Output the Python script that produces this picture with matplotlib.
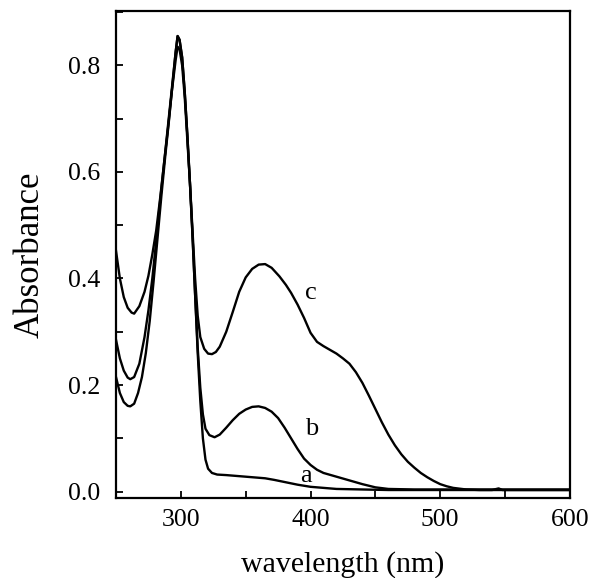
import numpy as np
import matplotlib
matplotlib.use("Agg")
import matplotlib.pyplot as plt
from matplotlib.ticker import MultipleLocator

plt.rcParams['font.family'] = ['Liberation Serif', 'DejaVu Serif']

# curva a
wl_a = [250, 253, 256, 259, 261, 264, 267, 270, 273, 276, 279, 282, 285, 288, 291, 294, 296, 297.5,
        299, 301, 303, 305, 307, 309, 311, 313, 315, 317, 319, 321, 324, 328, 335, 345, 355, 365,
        372, 380, 390, 400, 410, 420, 440, 460, 500, 540, 545, 548, 600]
abs_a = [0.215, 0.185, 0.168, 0.161, 0.160, 0.165, 0.185, 0.215, 0.260, 0.320, 0.395, 0.475, 0.555,
         0.630, 0.700, 0.775, 0.825, 0.855, 0.848, 0.815, 0.750, 0.670, 0.580, 0.480, 0.370, 0.260,
         0.170, 0.100, 0.060, 0.043, 0.035, 0.032, 0.031, 0.029, 0.027, 0.025, 0.022, 0.018, 0.013,
         0.009, 0.007, 0.005, 0.004, 0.003, 0.003, 0.003, 0.006, 0.003, 0.003]

# curva b
wl_b = [250, 253, 256, 259, 261, 264, 268, 272, 275, 278, 281, 284, 287, 290, 293, 296, 297.5,
        299, 301, 303, 305, 307, 309, 311, 313, 315, 317, 319, 322, 326, 330, 335, 340, 345, 350,
        355, 360, 365, 370, 375, 380, 385, 390, 395, 400, 405, 410, 420, 430, 440, 450, 460, 480, 600]
abs_b = [0.285, 0.250, 0.227, 0.214, 0.211, 0.215, 0.240, 0.290, 0.340, 0.400, 0.470, 0.545, 0.615,
         0.685, 0.755, 0.825, 0.855, 0.848, 0.815, 0.750, 0.670, 0.580, 0.480, 0.370, 0.270, 0.195,
         0.145, 0.118, 0.106, 0.102, 0.107, 0.120, 0.134, 0.146, 0.154, 0.159, 0.160, 0.157, 0.150,
         0.138, 0.120, 0.100, 0.080, 0.062, 0.050, 0.041, 0.035, 0.028, 0.021, 0.014, 0.008, 0.005,
         0.004, 0.004]

# curva c
wl_c = [250, 253, 256, 259, 262, 264, 268, 272, 275, 278, 281, 284, 287, 290, 293, 296, 297.5,
        299, 301, 303, 305, 307, 309, 311, 313, 315, 318, 321, 324, 327, 330, 335, 340, 345, 350,
        355, 360, 365, 370, 376, 381, 385, 390, 395, 400, 405, 410, 415, 420, 425, 430, 435, 440,
        445, 450, 455, 460, 465, 470, 475, 480, 485, 490, 495, 500, 505, 510, 520, 530, 600]
abs_c = [0.452, 0.400, 0.365, 0.345, 0.336, 0.334, 0.348, 0.375, 0.405, 0.445, 0.490, 0.550, 0.615,
         0.680, 0.750, 0.810, 0.835, 0.830, 0.800, 0.740, 0.660, 0.580, 0.490, 0.400, 0.330, 0.290,
         0.268, 0.259, 0.258, 0.262, 0.272, 0.300, 0.337, 0.375, 0.402, 0.418, 0.426, 0.427, 0.420,
         0.404, 0.388, 0.373, 0.351, 0.326, 0.298, 0.281, 0.273, 0.266, 0.259, 0.250, 0.240, 0.224,
         0.204, 0.180, 0.155, 0.130, 0.107, 0.087, 0.070, 0.056, 0.045, 0.035, 0.027, 0.020, 0.014,
         0.010, 0.007, 0.004, 0.003, 0.003]

etiquetas = ['a', 'b', 'c']
pos_etiquetas = [(392, 0.030), (396, 0.118), (396, 0.372)]

fig = plt.figure(figsize=(5.9, 5.78), dpi=100)
ax = fig.add_axes([0.1966, 0.1384, 0.7694, 0.8426])

for wl, ab in [(wl_a, abs_a), (wl_b, abs_b), (wl_c, abs_c)]:
    ax.plot(wl, ab, color='black', linewidth=1.7)

for txt, (x, y) in zip(etiquetas, pos_etiquetas):
    ax.text(x, y, txt, fontsize=19, ha='left', va='center')

ax.set_xlim(250, 600)
ax.set_ylim(-0.012, 0.902)
ax.xaxis.set_major_locator(MultipleLocator(100))
ax.xaxis.set_minor_locator(MultipleLocator(50))
ax.yaxis.set_major_locator(MultipleLocator(0.2))
ax.yaxis.set_minor_locator(MultipleLocator(0.1))
ax.yaxis.set_major_formatter(plt.FuncFormatter(lambda v, p: f"{v:.1f}"))

ax.tick_params(which='both', direction='in', length=5, width=1.3, labelsize=18.5)
ax.tick_params(axis='y', which='both', pad=11)
ax.tick_params(axis='x', which='both', pad=8)
for s in ax.spines.values():
    s.set_linewidth(1.6)

ax.set_xlabel("wavelength (nm)", fontsize=21.5, labelpad=14.5)
ax.set_ylabel("Absorbance", fontsize=25, labelpad=16)

fig.savefig("out.png", dpi=100)
